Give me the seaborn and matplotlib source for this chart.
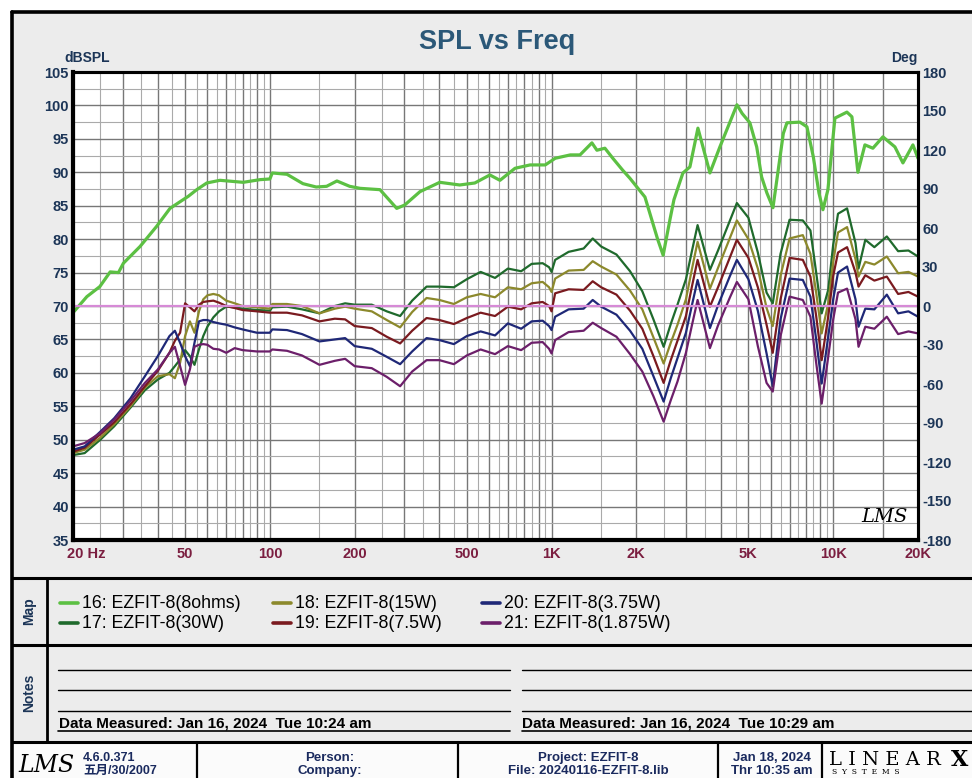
import matplotlib
matplotlib.use("Agg")
import matplotlib.pyplot as plt
import seaborn as sns
import pandas as pd
from matplotlib.lines import Line2D
from matplotlib.patches import Rectangle
from matplotlib.transforms import ScaledTranslation

# ---------------- data ----------------
FREQ_8OHM = [20, 22.4, 24.9, 27.1, 29.0, 30.2, 34.6, 39.6, 44.2, 48.0, 51.3, 55.0, 59.7, 66.5,
             80.4, 92.3, 100, 102, 115, 131, 146, 159, 173, 192, 209, 246, 282, 301, 341, 401,
             472, 534, 604, 656, 742, 839, 950, 1031, 1166, 1262, 1391, 1449, 1547, 1650, 1790,
             1898, 2146, 2380, 2490, 2632, 2720, 2927, 3099, 3309, 3650, 3960, 4552, 4750, 5061,
             5350, 5570, 5816, 6110, 6500, 6650, 6850, 7617, 8067, 8500, 8900, 9194, 9578, 10140,
             11186, 11652, 12236, 12958, 13830, 15014, 16558, 17680, 19185, 20000]
SPL_8OHM = [69.0, 71.4, 72.9, 75.1, 75.0, 76.4, 78.9, 81.9, 84.6, 85.6, 86.4, 87.4, 88.4, 88.8,
            88.5, 88.9, 89.0, 89.9, 89.7, 88.3, 87.8, 87.9, 88.7, 87.9, 87.6, 87.4, 84.6, 85.1, 87.1, 88.5,
            88.1, 88.4, 89.6, 88.8, 90.6, 91.1, 91.1, 92.1, 92.6, 92.6, 94.4, 93.3, 93.6, 92.1, 90.3,
            89.1, 86.3, 80.0, 77.6, 82.9, 85.9, 89.9, 90.8, 96.6, 89.9, 93.8, 100.1, 98.8, 97.4,
            93.8, 89.3, 86.9, 84.7, 92.8, 95.8, 97.4, 97.5, 96.8, 92.3, 86.9, 84.4, 87.4, 98.1,
            99.0, 98.3, 90.0, 94.1, 93.6, 95.3, 93.8, 91.4, 94.1, 92.1]

FREQ = [20, 22, 25, 28, 32, 36, 40, 44, 46, 48, 50, 52, 54, 56, 58, 60, 63, 66, 70, 75, 80, 90,
        100, 102, 115, 130, 150, 170, 185, 200, 230, 260, 290, 320, 360, 400, 450, 500, 560, 630,
        700, 780, 850, 930, 980, 1000, 1030, 1150, 1300, 1400, 1500, 1700, 1900, 2100, 2300, 2500,
        2650, 2800, 3000, 3150, 3300, 3650, 3900, 4300, 4550, 5000, 5400, 5800, 6100, 6500, 7000,
        7800, 8300, 8700, 9100, 9600, 10000, 10400, 11200, 12000, 12300, 13000, 14000, 15500,
        17000, 18500, 20000]

SPL_30W = [47.7, 48.0, 50.0, 52.0, 54.8, 57.4, 59.0, 60.0, 61.0, 62.0, 63.4, 62.5, 61.2, 63.5,
           65.5, 66.9, 68.3, 69.2, 69.9, 69.8, 69.6, 69.4, 69.3, 69.8, 69.9, 69.5, 68.9, 70.0, 70.4,
           70.2, 70.2, 69.2, 68.5, 70.8, 72.9, 72.9, 72.8, 74.0, 75.1, 74.2, 75.6, 75.2, 76.3, 76.4,
           75.8, 75.1, 76.9, 78.1, 78.6, 80.1, 78.9, 77.7, 75.2, 72.2, 68.0, 63.9, 67.3, 70.2, 74.0,
           78.2, 82.1, 75.4, 78.3, 82.8, 85.4, 83.2, 78.0, 72.0, 70.4, 77.8, 82.9, 82.8, 81.3, 75.0,
           68.9, 72.4, 79.2, 83.8, 84.6, 79.4, 75.6, 79.9, 78.8, 80.4, 78.2, 78.3, 77.4]
SPL_15W = [48.0, 48.5, 50.3, 52.3, 55.0, 57.8, 59.5, 59.8, 59.2, 61.5, 65.5, 67.7, 66.0, 69.2,
           71.0, 71.6, 71.8, 71.6, 70.8, 70.4, 70.0, 69.8, 69.6, 70.3, 70.3, 70.0, 68.9, 69.6, 69.9,
           69.6, 69.2, 67.9, 66.8, 69.1, 71.2, 70.9, 70.3, 71.3, 71.8, 71.3, 72.8, 72.5, 73.4, 73.6,
           72.8, 72.1, 74.1, 75.3, 75.4, 76.7, 75.9, 74.7, 72.3, 69.5, 65.3, 61.4, 64.5, 67.2, 71.0,
           75.5, 79.6, 72.6, 75.7, 80.2, 82.8, 80.0, 75.6, 69.7, 67.0, 74.5, 80.1, 80.6, 77.8, 72.0,
           65.9, 70.4, 76.6, 81.0, 81.8, 77.0, 74.4, 76.6, 76.2, 77.4, 74.9, 75.1, 74.4]
SPL_7_5W = [48.2, 48.8, 50.8, 52.6, 55.3, 58.0, 60.3, 63.0, 64.8, 66.0, 70.4, 69.8, 69.2, 70.2,
            70.6, 70.7, 70.8, 70.5, 70.0, 69.7, 69.4, 69.2, 69.0, 69.0, 69.0, 68.6, 67.7, 68.1, 68.0,
            67.0, 66.7, 65.4, 64.4, 66.3, 68.2, 67.9, 67.3, 68.2, 69.0, 68.5, 69.9, 69.5, 70.4, 70.6,
            70.0, 69.2, 71.9, 72.5, 72.4, 73.7, 72.8, 71.7, 69.3, 66.6, 62.5, 58.5, 61.9, 64.8, 68.5,
            72.9, 76.9, 69.9, 72.8, 77.3, 79.9, 77.2, 72.8, 67.2, 63.0, 71.0, 77.2, 76.9, 74.4, 68.5,
            61.9, 68.4, 74.5, 78.0, 78.8, 75.0, 72.9, 74.6, 73.8, 74.4, 71.8, 72.1, 71.4]
SPL_3_75W = [48.5, 49.0, 51.2, 53.2, 56.2, 59.5, 62.5, 65.5, 66.3, 64.5, 62.5, 61.0, 64.5, 67.7,
             67.9, 67.9, 67.6, 67.4, 67.2, 66.8, 66.5, 66.0, 66.0, 66.5, 66.4, 65.8, 64.7, 65.0, 65.2,
             64.0, 63.6, 62.4, 61.3, 63.2, 65.2, 64.9, 64.3, 65.5, 66.2, 65.6, 67.4, 66.6, 67.7, 67.8,
             67.0, 66.4, 68.4, 69.5, 69.6, 70.9, 69.9, 68.7, 66.3, 63.6, 59.5, 55.7, 59.2, 62.2, 66.0,
             70.1, 73.9, 66.7, 70.1, 74.5, 76.9, 74.0, 69.3, 62.9, 58.0, 68.0, 74.1, 73.9, 71.4, 65.0,
             58.4, 65.4, 71.0, 75.0, 75.9, 71.0, 66.9, 69.6, 69.5, 71.7, 68.9, 69.2, 68.4]
SPL_1_875W = [49.0, 49.5, 51.0, 53.0, 55.8, 58.5, 60.5, 63.0, 63.9, 61.0, 58.2, 60.5, 63.9, 64.2,
              64.3, 64.2, 63.6, 63.5, 63.0, 63.7, 63.4, 63.2, 63.2, 63.5, 63.3, 62.6, 61.2, 61.8, 62.1,
              61.0, 60.7, 59.4, 58.0, 60.2, 61.9, 61.9, 61.3, 62.6, 63.5, 62.8, 64.0, 63.4, 64.5, 64.6,
              63.6, 62.9, 64.9, 66.1, 66.3, 67.5, 66.7, 65.4, 62.8, 60.2, 56.5, 52.7, 55.9, 58.7, 63.0,
              67.1, 70.9, 63.7, 67.1, 71.3, 73.6, 71.0, 64.0, 58.5, 57.2, 65.5, 71.4, 70.9, 68.4, 61.5,
              55.4, 62.4, 68.0, 72.0, 72.6, 68.0, 63.9, 66.9, 66.6, 68.4, 65.8, 66.2, 65.9]

SERIES_LABELS = ["16: EZFIT-8(8ohms)", "17: EZFIT-8(30W)", "18: EZFIT-8(15W)",
                 "19: EZFIT-8(7.5W)", "20: EZFIT-8(3.75W)", "21: EZFIT-8(1.875W)"]
COLORS = ["#5cc043", "#1f6a2c", "#8c892c", "#7a1a1f", "#1f2877", "#6c1f6a"]

X_TICKS = [20, 50, 100, 200, 500, 1000, 2000, 5000, 10000, 20000]
X_TICK_LABELS = ["20 Hz", "50", "100", "200", "500", "1K", "2K", "5K", "10K", "20K"]
Y_TICKS = list(range(35, 106, 5))
DEG_TICKS = list(range(-180, 181, 30))
REF_LEVEL = 70

# ---------------- style ----------------
sns.set_theme(style="white")
plt.rcParams['font.family'] = ['Liberation Sans', 'Noto Sans CJK SC', 'DejaVu Sans']

W, H = 972, 778
fig = plt.figure(figsize=(W / 100, H / 100), dpi=100)
fig.patch.set_facecolor('white')


def fx(x):
    return x / W


def fy(y):
    return 1 - y / H


def hline(y, x0, x1, lw=2.0, color='black', z=5):
    fig.add_artist(Line2D([fx(x0), fx(x1)], [fy(y), fy(y)], transform=fig.transFigure,
                          color=color, lw=lw, zorder=z))


def vline(x, y0, y1, lw=2.0, color='black', z=5):
    fig.add_artist(Line2D([fx(x), fx(x)], [fy(y0), fy(y1)], transform=fig.transFigure,
                          color=color, lw=lw, zorder=z))


# panel backgrounds
fig.add_artist(Rectangle((fx(12), fy(742)), (W - 12) / W, (742 - 12) / H,
                         transform=fig.transFigure, facecolor='#ececec', edgecolor='none', zorder=-10))
fig.add_artist(Rectangle((fx(12), 0), (W - 12) / W, (H - 742) / H,
                         transform=fig.transFigure, facecolor='#fbfbfb', edgecolor='none', zorder=-10))

# frame lines
hline(12, 12, W, lw=2.6)
vline(12, 12, H, lw=2.6)
hline(578, 12, W, lw=2.2)
hline(645, 12, W, lw=2.2)
hline(742, 12, W, lw=2.2)
vline(47, 578, 742, lw=2.0)
for xs in [197, 458, 718, 822]:
    vline(xs, 742, H, lw=1.6)

# ---------------- main axes ----------------
ax = fig.add_axes([fx(73), fy(540), (918 - 73) / W, (540 - 72) / H])
ax.set_facecolor('white')
ax.set_xscale('log')
ax.set_xlim(20, 20000)
ax.set_ylim(35, 105)

# grid
grid_x = list(range(25, 101, 5)) + list(range(150, 1001, 50)) + list(range(1500, 10001, 500)) + [15000]
for g in grid_x:
    dark = (g <= 100 and g % 10 == 0) or (100 < g <= 1000 and g % 100 == 0) or \
           (1000 < g <= 10000 and g % 1000 == 0) or g > 10000
    ax.axvline(g, color='#777777' if dark else '#aaaaaa', lw=1.0 if dark else 0.8, zorder=0.5)
y = 37.5
while y < 105:
    major = abs(y % 5) < 1e-6
    ax.axhline(y, color='#777777' if major else '#aaaaaa', lw=1.0 if major else 0.8, zorder=0.5)
    y += 2.5

# data frames
df_green = pd.DataFrame({'freq': FREQ_8OHM, 'spl': SPL_8OHM, 'series': SERIES_LABELS[0]})
lower_vals = [SPL_30W, SPL_15W, SPL_7_5W, SPL_3_75W, SPL_1_875W]
df_lower = pd.concat([pd.DataFrame({'freq': FREQ, 'spl': v, 'series': lab})
                      for v, lab in zip(lower_vals, SERIES_LABELS[1:])], ignore_index=True)

sns.lineplot(data=df_green, x='freq', y='spl', color=COLORS[0], linewidth=2.3,
             estimator=None, legend=False, ax=ax, zorder=3)
sns.lineplot(data=df_lower, x='freq', y='spl', hue='series', hue_order=SERIES_LABELS[1:],
             palette=COLORS[1:], linewidth=1.6, estimator=None, legend=False, ax=ax, zorder=3)
ax.axhline(REF_LEVEL, color='#d68ad6', lw=1.6, zorder=4)

ax.set_xlabel('')
ax.set_ylabel('')
ax.set_xticks(X_TICKS)
ax.set_xticklabels(X_TICK_LABELS)
ax.xaxis.set_minor_locator(matplotlib.ticker.NullLocator())
ax.set_yticks(Y_TICKS)
ax.set_yticklabels([str(v) for v in Y_TICKS])
ax.tick_params(axis='both', length=0)
ax.tick_params(axis='y', pad=3, labelsize=10.5, labelcolor='#1c3557')
ax.tick_params(axis='x', pad=5, labelsize=10.5, labelcolor='#7b1e40')
for lbl in ax.get_yticklabels():
    lbl.set_fontweight('bold')
for lbl in ax.get_xticklabels():
    lbl.set_fontweight('bold')
first = ax.get_xticklabels()[0]
first.set_horizontalalignment('left')
first.set_transform(first.get_transform() + ScaledTranslation(-6 / 100, 0, fig.dpi_scale_trans))
for side, sp in ax.spines.items():
    sp.set_visible(True)
    sp.set_color('black')
    sp.set_linewidth(3.0 if side in ('left', 'bottom') else 2.2)
    sp.set_zorder(6)

ax2 = ax.twinx()
ax2.set_ylim(-180, 180)
ax2.set_yticks(DEG_TICKS)
ax2.set_yticklabels([str(v) for v in DEG_TICKS])
ax2.tick_params(axis='y', length=0, pad=3, labelsize=10.5, labelcolor='#1c3557')
for lbl in ax2.get_yticklabels():
    lbl.set_fontweight('bold')
ax2.grid(False)
for side, sp in ax2.spines.items():
    sp.set_color('black')
    sp.set_linewidth(2.2)

# LMS signature in plot
ax.text(0.988, 0.03, 'LMS', transform=ax.transAxes, ha='right', va='bottom',
        fontsize=14, fontstyle='italic', family='DejaVu Serif', color='black', zorder=7)

# titles
fig.text(fx(497), fy(42), 'SPL vs Freq', ha='center', va='center', fontsize=19.5,
         fontweight='bold', color='#2b5878')
fig.text(fx(64), fy(58), 'dBSPL', ha='left', va='center', fontsize=10,
         fontweight='bold', color='#1c3557')
fig.text(fx(917), fy(58), 'Deg', ha='right', va='center', fontsize=10,
         fontweight='bold', color='#1c3557')

# ---------------- map (legend) ----------------
fig.text(fx(29), fy(611), 'Map', rotation=90, ha='center', va='center', fontsize=10,
         fontweight='bold', color='#1c3557')
legend_pos = [(60, 603), (60, 623), (273, 603), (273, 623), (482, 603), (482, 623)]
for (lx, ly), lab, col in zip(legend_pos, SERIES_LABELS, COLORS):
    hline(ly, lx, lx + 18, lw=2.6, color=col, z=6)
    fig.text(fx(lx + 22), fy(ly), lab, ha='left', va='center', fontsize=12.8, color='black')

# ---------------- notes ----------------
fig.text(fx(29), fy(693), 'Notes', rotation=90, ha='center', va='center', fontsize=10,
         fontweight='bold', color='#1c3557')
for ny in [670, 690, 711]:
    hline(ny, 58, 510, lw=1.0)
    hline(ny, 522, W, lw=1.0)
hline(731, 58, 510, lw=1.2)
hline(731, 522, W, lw=1.2)
fig.text(fx(59), fy(723), 'Data Measured: Jan 16, 2024  Tue 10:24 am', ha='left', va='center',
         fontsize=11, fontweight='bold', color='black')
fig.text(fx(522), fy(723), 'Data Measured: Jan 16, 2024  Tue 10:29 am', ha='left', va='center',
         fontsize=11, fontweight='bold', color='black')

# ---------------- footer ----------------
navy = '#1a2a5e'
fig.text(fx(18), fy(765), 'LMS', ha='left', va='center', fontsize=17, fontstyle='italic',
         family='DejaVu Serif', color='black')
fig.text(fx(83), fy(758), '4.6.0.371', ha='left', va='center', fontsize=9, fontweight='bold', color=navy)
fig.text(fx(83), fy(771), '五月/30/2007', ha='left', va='center', fontsize=9, fontweight='bold',
         color=navy)
fig.text(fx(330), fy(758), 'Person:', ha='center', va='center', fontsize=9.5, fontweight='bold', color=navy)
fig.text(fx(330), fy(771), 'Company:', ha='center', va='center', fontsize=9.5, fontweight='bold', color=navy)
fig.text(fx(588), fy(758), 'Project: EZFIT-8', ha='center', va='center', fontsize=9.5,
         fontweight='bold', color=navy)
fig.text(fx(588), fy(771), 'File: 20240116-EZFIT-8.lib', ha='center', va='center', fontsize=9.5,
         fontweight='bold', color=navy)
fig.text(fx(772), fy(758), 'Jan 18, 2024', ha='center', va='center', fontsize=9.5,
         fontweight='bold', color=navy)
fig.text(fx(772), fy(771), 'Thr 10:35 am', ha='center', va='center', fontsize=9.5,
         fontweight='bold', color=navy)
fig.text(fx(829), fy(760), 'L I N E A R', ha='left', va='center', fontsize=14,
         family='DejaVu Serif', color='black')
fig.text(fx(951), fy(760), 'X', ha='left', va='center', fontsize=16, fontweight='bold',
         family='DejaVu Serif', color='black')
fig.text(fx(832), fy(772), 'S  Y  S  T  E  M  S', ha='left', va='center', fontsize=5.5,
         family='DejaVu Serif', color='black')

fig.savefig('out.png', dpi=100)
